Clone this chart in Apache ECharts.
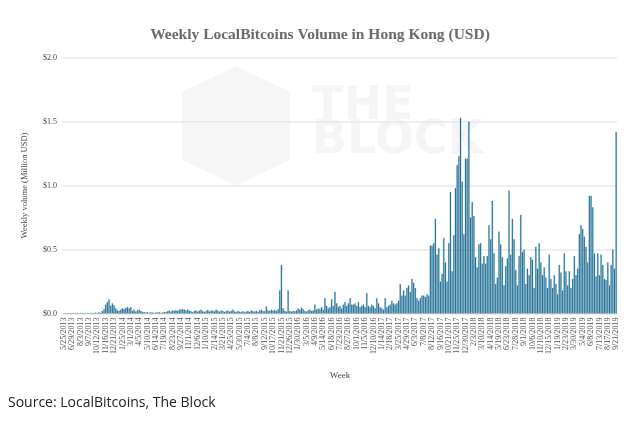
<!DOCTYPE html>
<html>
<head>
<meta charset="utf-8">
<script src="https://cdn.jsdelivr.net/npm/echarts@6/dist/echarts.min.js"></script>
<style>
html,body{margin:0;padding:0;background:#fff;}
#chart{width:640px;height:432px;}
</style>
</head>
<body>
<div id="chart"></div>
<script>
// First week and number of weekly observations
var startDate = '2013-05-25';
var weekCount = 331;

// Weekly volume (million USD), one value per week
var weeklyVolume = [
  0.001,0.001,0.001,0.001,0.001,0.002,0.001,0.002,0.001,0.002,0.002,0.001,0.002,0.002,0.003,0.002,
  0.004,0.006,0.003,0.007,0.005,0.009,0.006,
  0.02,0.035,0.07,0.09,0.11,0.06,0.08,0.065,0.04,0.025,0.02,0.03,0.04,0.035,0.045,0.05,0.04,0.05,0.02,0.03,0.015,0.025,0.03,0.02,0.012,
  0.01,0.008,0.012,0.006,0.01,0.008,0.005,0.009,0.007,0.01,0.006,0.008,0.012,0.01,
  0.018,0.022,0.015,0.025,0.02,0.028,0.02,0.03,0.032,0.035,0.03,0.025,0.03,0.022,0.018,
  0.01,0.02,0.025,0.015,0.022,0.03,0.018,0.012,0.02,0.028,0.015,0.025,0.02,0.018,0.03,0.022,0.015,0.025,0.02,0.012,0.018,0.025,0.015,0.02,0.03,0.018,0.012,0.02,0.015,
  0.012,0.018,0.01,0.015,0.02,0.012,0.025,0.018,0.015,0.02,0.012,0.025,0.03,0.02,0.018,
  0.055,
  0.025,0.02,0.03,0.022,0.028,0.02,0.035,
  0.18,0.38,
  0.04,0.02,0.015,
  0.18,
  0.02,0.015,0.02,0.018,0.025,0.04,0.03,0.045,0.035,0.02,0.015,0.025,0.03,0.02,0.025,
  0.07,
  0.03,0.04,0.035,0.05,0.03,
  0.12,
  0.06,0.04,0.05,0.11,0.06,
  0.17,
  0.08,0.05,0.06,0.04,0.07,
  0.09,0.06,0.08,0.12,0.07,0.07,0.08,0.06,0.09,0.05,0.06,0.07,0.05,0.16,0.06,0.05,0.07,0.06,0.04,0.12,0.08,
  0.05,0.04,0.03,0.12,0.05,0.06,0.07,0.1,0.08,0.07,
  0.08,0.1,0.23,0.14,0.18,0.14,0.2,0.22,0.17,0.27,
  0.24,0.2,0.12,0.1,0.12,0.14,0.14,0.13,0.15,0.14,
  0.53,0.53,0.55,0.74,0.46,0.51,0.25,0.31,0.59,0.4,
  0.25,0.55,0.95,0.33,0.61,0.98,1.16,1.23,1.53,1.03,
  0.62,1.21,1.21,1.5,0.75,0.87,0.76,0.44,0.36,0.54,
  0.55,0.39,0.45,0.39,0.45,0.69,0.58,0.88,0.47,0.23,
  0.28,0.64,0.54,0.44,0.22,0.37,0.43,0.96,
  0.46,0.74,0.58,0.34,0.22,0.45,0.77,0.48,0.5,0.23,
  0.35,0.3,0.44,0.42,0.2,0.52,0.35,0.55,0.4,0.3,
  0.36,0.28,0.2,0.46,0.27,0.2,0.3,0.23,0.15,0.38,
  0.32,0.18,0.47,0.33,0.22,0.33,0.2,0.27,0.45,0.3,
  0.35,0.62,0.69,0.66,0.6,0.52,0.4,0.92,0.92,0.83,
  0.47,0.29,0.47,0.3,0.46,0.38,0.27,0.26,0.4,0.22,
  0.38,0.5,0.35,1.42
];

// Y-axis ticks (million USD)
var yTicks = [0, 0.5, 1.0, 1.5, 2.0];

var titleText = 'Weekly LocalBitcoins Volume in Hong Kong (USD)';
var yAxisName = 'Weekly volume (Million USD)';
var xAxisName = 'Week';
var sourceText = 'Source: LocalBitcoins, The Block';

// Week labels (M/D/YYYY)
var weekLabels = [];
(function () {
  var p = startDate.split('-');
  var t0 = Date.UTC(+p[0], +p[1] - 1, +p[2]);
  for (var i = 0; i < weekCount; i++) {
    var d = new Date(t0 + i * 7 * 86400000);
    weekLabels.push((d.getUTCMonth() + 1) + '/' + d.getUTCDate() + '/' + d.getUTCFullYear());
  }
})();

var serif = '"Liberation Serif", "DejaVu Serif", serif';

var chart = echarts.init(document.getElementById('chart'), null, {renderer: 'canvas'});
chart.setOption({
  animation: false,
  backgroundColor: '#ffffff',
  title: {
    text: titleText,
    left: 'center',
    top: 22,
    textStyle: {fontFamily: serif, fontSize: 15.5, fontWeight: 'bold', color: '#6b6b6b'}
  },
  graphic: [
    {type: 'polygon', z: -10, shape: {points: [[236,66],[290,92],[290,160],[236,186],[182,160],[182,92]]}, style: {fill: '#f6f6f6'}},
    {type: 'text', z: -10, left: 312, top: 84, style: {text: 'THE', font: 'bold 46px "DejaVu Sans"', fill: '#f5f5f5'}},
    {type: 'text', z: -10, left: 312, top: 118, style: {text: 'BLOCK', font: 'bold 46px "DejaVu Sans"', fill: '#f5f5f5'}},
    {type: 'text', left: 8, top: 396, style: {text: sourceText, font: '14px "Open Sans", "Noto Sans", sans-serif', fill: '#222222'}}
  ],
  grid: {left: 63, right: 23, top: 57.5, bottom: 118.5, containLabel: false},
  xAxis: {
    type: 'category',
    data: weekLabels,
    name: xAxisName,
    nameLocation: 'middle',
    nameGap: 58,
    nameTextStyle: {fontFamily: serif, fontSize: 9, color: '#444'},
    axisLine: {show: true, lineStyle: {color: '#dddddd', width: 1}},
    axisTick: {show: false},
    axisLabel: {interval: 4, rotate: 90, fontFamily: serif, fontSize: 8, color: '#555', margin: 4}
  },
  yAxis: {
    type: 'value',
    min: yTicks[0],
    max: yTicks[yTicks.length - 1],
    interval: 0.5,
    name: yAxisName,
    nameLocation: 'middle',
    nameGap: 34,
    nameRotate: 90,
    nameTextStyle: {fontFamily: serif, fontSize: 8.5, color: '#444'},
    axisLine: {show: false},
    axisTick: {show: false},
    splitLine: {lineStyle: {color: '#e9e9e9', width: 1.5}},
    axisLabel: {
      fontFamily: serif, fontSize: 8, color: '#444', margin: 6,
      formatter: function (v) { return '$' + v.toFixed(1); }
    }
  },
  series: [{
    type: 'bar',
    data: weeklyVolume,
    barCategoryGap: '18%',
    itemStyle: {color: '#1d6a8e', borderColor: '#4a90b0', borderWidth: 0.3}
  }]
});
</script>
</body>
</html>
